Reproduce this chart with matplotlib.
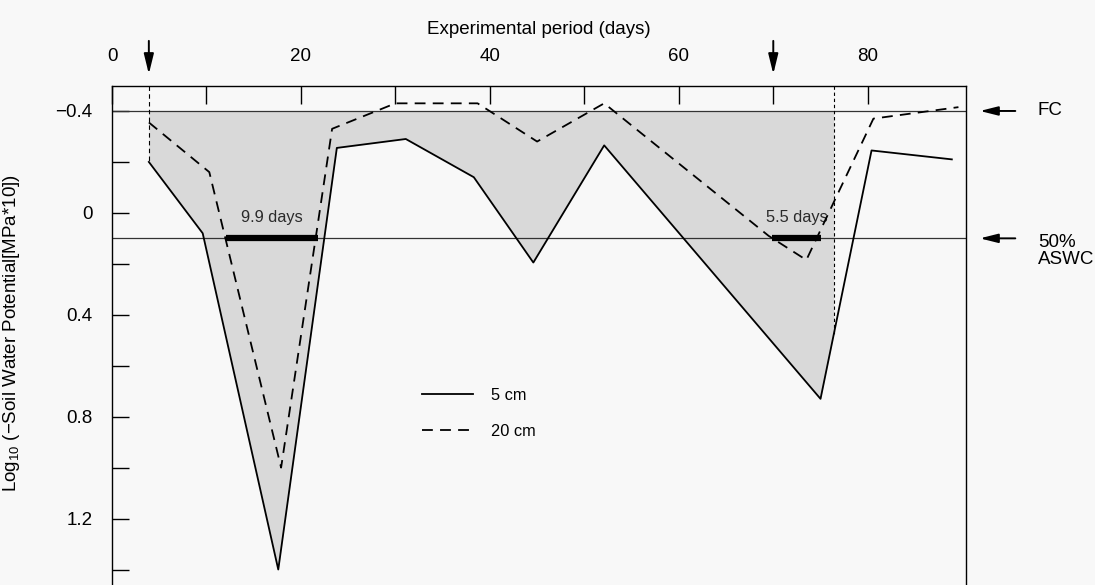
import numpy as np
import matplotlib as mpl; mpl.use("Agg")
import matplotlib.pyplot as plt
from matplotlib.ticker import FixedLocator, FuncFormatter

plt.rcParams.update({
    "font.family": ["Liberation Sans", "DejaVu Sans"],
    "mathtext.default": "regular",
    "font.size": 13.5,
    "axes.linewidth": 1.0,
})

# --- data ---
days_5cm = [3.9, 9.6, 17.6, 23.8, 31.1, 38.3, 44.6, 52.1, 75.0, 80.4, 88.9]
psi_5cm = [-0.20, 0.08, 1.40, -0.255, -0.29, -0.14, 0.195, -0.265, 0.73, -0.245, -0.21]

days_20cm = [3.9, 10.3, 17.9, 23.3, 30.0, 38.7, 45.0, 52.1, 69.5, 73.5, 80.6, 89.6]
psi_20cm = [-0.355, -0.16, 1.00, -0.33, -0.43, -0.43, -0.28, -0.43, 0.09, 0.185, -0.37, -0.415]

fc_level = -0.4          # field capacity
aswc_level = 0.1         # 50% available soil water
irrigation_days = [3.9, 70.0]
shade_end = 76.4
stress_bars = [(12.1, 21.8, "9.9 days"), (69.9, 75.0, "5.5 days")]

bg = "#f8f8f8"
fig = plt.figure(figsize=(10.95, 5.85), dpi=100, facecolor=bg)
ax = fig.add_axes([112/1095, -10/585, 854/1095, 509.5/585], facecolor=bg)

x5 = np.array(days_5cm); y5 = np.array(psi_5cm)
# shaded deficit area between FC and the 5 cm curve
m = (x5 >= irrigation_days[0]) & (x5 <= shade_end)
xs = np.append(x5[m], shade_end)
ys = np.append(y5[m], np.interp(shade_end, x5, y5))
ax.fill_between(xs, fc_level, ys, color="#d9d9d9", lw=0, zorder=1)

ax.axhline(fc_level, color="#333333", lw=0.9, zorder=2)
ax.axhline(aswc_level, color="#333333", lw=0.9, zorder=2)

ax.plot(days_5cm, psi_5cm, "-", c="k", lw=1.3, label="5 cm", zorder=4)
ax.plot(days_20cm, psi_20cm, "--", c="k", lw=1.3, dashes=(6, 4), label="20 cm", zorder=4)

# vertical markers at irrigation start and end of shading
ax.plot([irrigation_days[0]] * 2, [-0.5, psi_5cm[0]], c="k", lw=0.8, dashes=(4, 3), zorder=3)
ax.plot([shade_end] * 2, [-0.5, np.interp(shade_end, x5, y5)], c="k", lw=0.8, dashes=(3, 2.5), zorder=3)

for x0, x1, lab in stress_bars:
    ax.plot([x0, x1], [aswc_level, aswc_level], c="k", lw=4.5, solid_capstyle="butt", zorder=5)
    ax.text((x0 + x1) / 2, aswc_level - 0.08, lab, ha="center", va="center", fontsize=11.8, color="#2a2a2a")

ax.set_xlim(0, 90.4)
ax.set_ylim(1.5, -0.5)

ax.xaxis.tick_top()
ax.xaxis.set_label_position("top")
ax.xaxis.set_major_locator(FixedLocator([0, 20, 40, 60, 80]))
ax.xaxis.set_minor_locator(FixedLocator([10, 30, 50, 70]))
ax.yaxis.set_major_locator(FixedLocator([-0.4, 0, 0.4, 0.8, 1.2]))
ax.yaxis.set_minor_locator(FixedLocator([-0.2, 0.2, 0.6, 1.0, 1.4]))
ax.yaxis.set_major_formatter(FuncFormatter(lambda v, p: f"{v:g}".replace("-", "\u2212")))
ax.tick_params(axis="x", which="both", direction="in", length=13, width=1.0, pad=15, top=True, bottom=False)
ax.tick_params(axis="y", which="both", direction="in", length=12, width=1.0, pad=14)
ax.spines["bottom"].set_visible(False)

ax.set_xlabel("Experimental period (days)")
ax.xaxis.set_label_coords(0.5, 1.101)
ax.set_ylabel("Log$_{10}$ (\u2212Soil Water Potential[MPa*10])")
ax.yaxis.set_label_coords(-0.105, 0.514)

# irrigation arrows above the top axis
for d in irrigation_days:
    ax.annotate("", xy=(d, 1.017), xytext=(d, 1.093), xycoords=ax.get_xaxis_transform(),
                textcoords=ax.get_xaxis_transform(), annotation_clip=False,
                arrowprops=dict(arrowstyle="-|>,head_length=0.9,head_width=0.22", lw=1.4, color="k"))

# reference-level labels on the right
for lvl, lab, yt in [(fc_level, "FC", fc_level), (aswc_level, "50%\nASWC", aswc_level + 0.049)]:
    ax.annotate("", xy=(1.013, lvl), xytext=(1.061, lvl), xycoords=ax.get_yaxis_transform(),
                textcoords=ax.get_yaxis_transform(), annotation_clip=False,
                arrowprops=dict(arrowstyle="-|>,head_length=0.8,head_width=0.2", lw=1.4, color="k"))
    ax.text(1.084, yt, lab, transform=ax.get_yaxis_transform(), ha="left", va="center", linespacing=1.0)

ax.legend(frameon=False, loc="upper left", bbox_to_anchor=(0.3627, 0.407), fontsize=11.8,
          handlelength=3.1, labelspacing=1.3, borderpad=0, borderaxespad=0, handletextpad=1.14)

fig.savefig("out.png", dpi=100, facecolor=bg)
